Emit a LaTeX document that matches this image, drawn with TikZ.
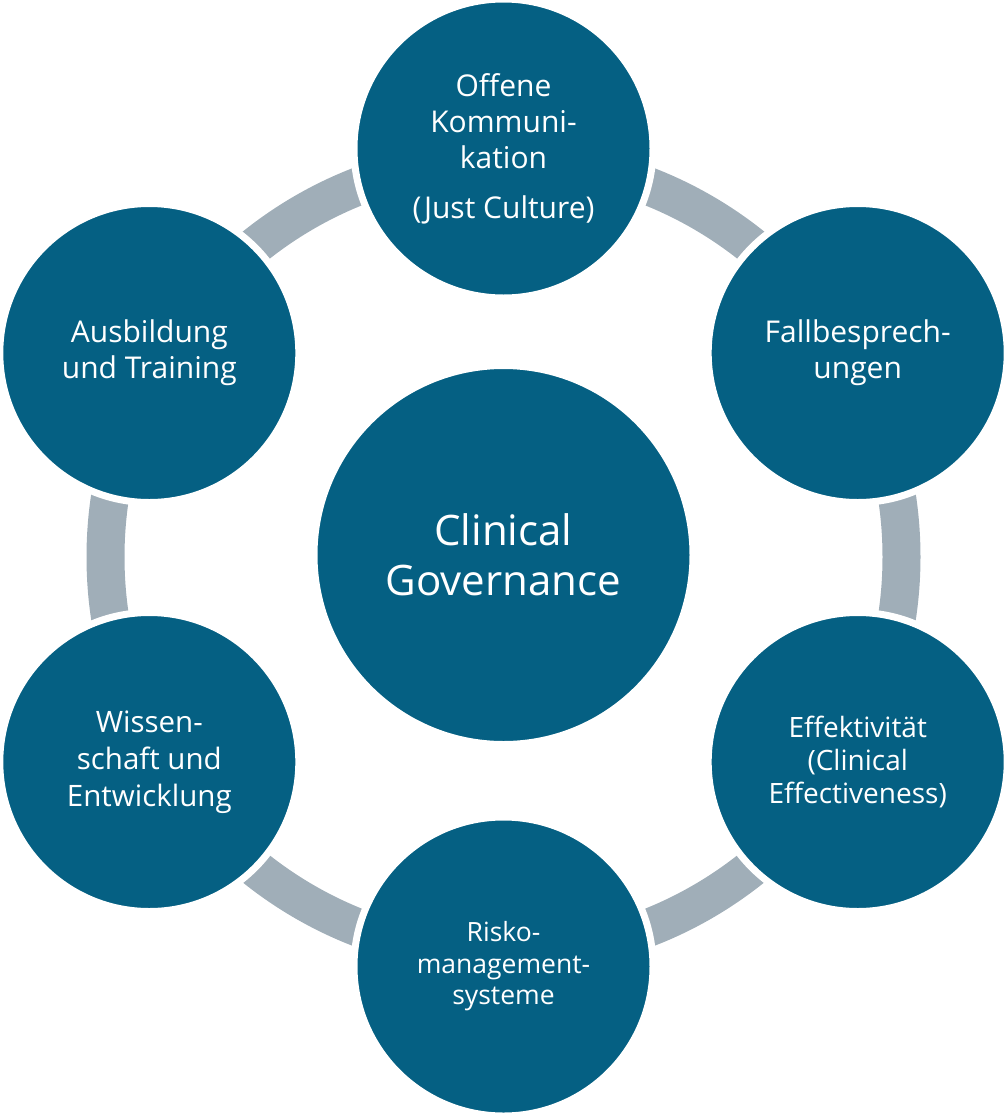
\documentclass[tikz,border=0pt]{standalone}
\usepackage{fontspec}
\setmainfont{Open Sans}
\definecolor{cgblue}{HTML}{056083}
\definecolor{cgring}{HTML}{A0AEB8}
\begin{document}
\begin{tikzpicture}[x=1pt,y=-1pt,
  outer/.style={circle, fill=cgblue, draw=white, line width=7pt,
    minimum size=299pt, inner sep=0pt, text=white, align=center,
    font=\fontsize{30}{36}\selectfont},
  hub/.style={circle, fill=cgblue, draw=white, line width=4pt,
    minimum size=376pt, inner sep=0pt, text=white, align=center,
    font=\fontsize{42}{50}\selectfont},
  ring/.style={cgring, line width=38pt}]
\useasboundingbox (0,0) rectangle (1007,1117);
\coordinate (ctr) at (503.5,557);
\draw[ring] (ctr) circle[radius=398pt];
\node[outer] (kom) at (503.5,148.5) {Offene\\Kommuni-\\kation\\[14pt](Just Culture)};
\node[outer] (fall) at (857.7,353) {Fallbesprech-\\ungen};
\node[outer, font=\fontsize{28}{33}\selectfont] (eff) at (857.7,762) {Effektivität\\(Clinical\\Effectiveness)};
\node[outer, font=\fontsize{26.5}{31.5}\selectfont] (risk) at (503.5,966.5) {Risko-\\management-\\systeme};
\node[outer, font=\fontsize{29.5}{37}\selectfont] (wiss) at (149.3,762) {Wissen-\\schaft und\\Entwicklung};
\node[outer] (ausb) at (149.3,353) {Ausbildung\\und Training};
\node[hub] (cg) at (503.5,555) {Clinical\\Governance};
\end{tikzpicture}
\end{document}
